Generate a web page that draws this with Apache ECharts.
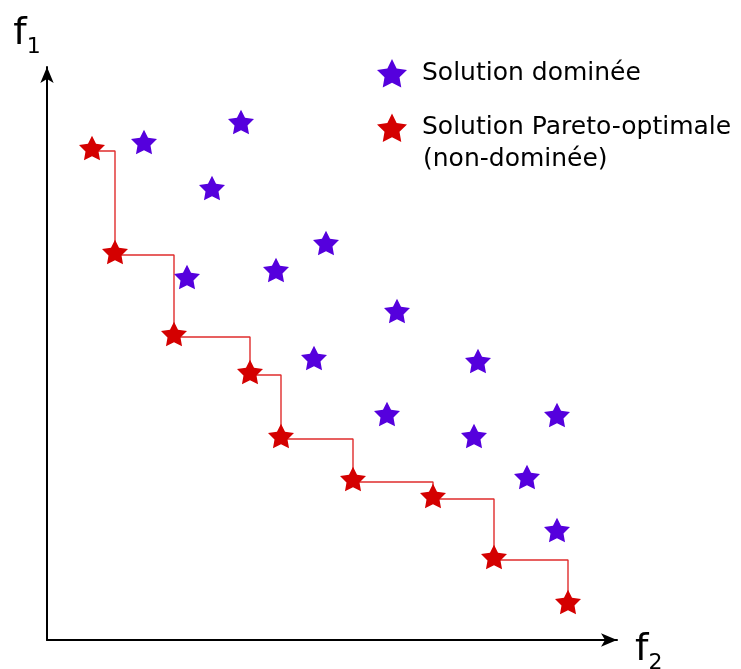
<!DOCTYPE html>
<html>
<head>
<meta charset="utf-8">
<script src="https://cdn.jsdelivr.net/npm/echarts@6/dist/echarts.min.js"></script>
<style>
html,body{margin:0;padding:0;background:#fff;}
#chart{width:741px;height:669px;}
</style>
</head>
<body>
<div id="chart"></div>
<script>
// f2 (x) and f1 (y) values of dominated solutions
var dominatedF2 = [97, 194, 165, 279, 140, 229, 350, 267, 431, 340, 510, 427, 480, 510];
var dominatedF1 = [497, 517, 451, 396, 362, 369, 328, 281, 278, 225, 224, 203, 162, 109];
// Pareto-optimal (non-dominated) solutions
var paretoF2 = [45, 68, 127, 203, 234, 306, 386, 447, 521];
var paretoF1 = [489, 385, 303, 265, 201, 158, 141, 80, 35];

var nameDominated = 'Solution dominée';
var namePareto = 'Solution Pareto-optimale';
var namePareto2 = '(non-dominée)';

var STAR = 'path://M0,-100L29.39,-40.45L95.11,-30.9L47.55,15.45L58.78,80.9L0,50L-58.78,80.9L-47.55,15.45L-95.11,-30.9L-29.39,-40.45Z';
var FONT = 'DejaVu Sans';

function pairs(xs, ys) { return xs.map(function (x, i) { return [x, ys[i]]; }); }

var chart = echarts.init(document.getElementById('chart'));
chart.setOption({
  animation: false,
  backgroundColor: '#fff',
  grid: { left: 47, right: 124, top: 67, bottom: 29, outerBoundsMode: 'none', containLabel: false },
  legend: {
    orient: 'vertical',
    left: 372,
    top: 54,
    padding: 5,
    itemWidth: 30,
    itemHeight: 29,
    itemGap: 26,
    symbolKeepAspect: true,
    textStyle: { fontFamily: FONT, fontSize: 25, color: '#000', padding: [0, 0, 0, 10] },
    data: [
      { name: nameDominated, icon: STAR },
      { name: namePareto, icon: STAR }
    ]
  },
  graphic: [{
    type: 'text', left: 423, top: 147,
    style: { text: namePareto2, fontFamily: FONT, fontSize: 25, fill: '#000' }
  }],
  xAxis: {
    type: 'value', min: 0, max: 570,
    name: '{f|f}{s|2}', nameLocation: 'end', nameGap: 18,
    nameTextStyle: {
      padding: [20, 0, 0, 0],
      rich: {
        f: { fontFamily: FONT, fontSize: 38, color: '#000' },
        s: { fontFamily: FONT, fontSize: 22, color: '#000', padding: [26, 0, 0, 0] }
      }
    },
    axisLine: { lineStyle: { color: '#000', width: 2 }, symbol: ['none', 'arrow'], symbolSize: [10, 16] },
    axisTick: { show: false }, axisLabel: { show: false }, splitLine: { show: false }
  },
  yAxis: {
    type: 'value', min: 0, max: 573,
    name: '{f|f}{s|1}', nameLocation: 'end', nameGap: 9,
    nameTextStyle: {
      padding: [0, 40, 0, 0],
      rich: {
        f: { fontFamily: FONT, fontSize: 38, color: '#000' },
        s: { fontFamily: FONT, fontSize: 22, color: '#000', padding: [26, 0, 0, 0] }
      }
    },
    axisLine: { lineStyle: { color: '#000', width: 2 }, symbol: ['none', 'arrow'], symbolSize: [10, 16] },
    axisTick: { show: false }, axisLabel: { show: false }, splitLine: { show: false }
  },
  series: [
    {
      name: 'front', type: 'line', step: 'end', symbol: 'none',
      data: pairs(paretoF2, paretoF1),
      lineStyle: { color: '#e02c2c', width: 1.4 }, z: 1, silent: true
    },
    {
      name: nameDominated, type: 'scatter', symbol: STAR, symbolSize: 26, symbolKeepAspect: true,
      symbolOffset: [0, -1],
      data: pairs(dominatedF2, dominatedF1),
      itemStyle: { color: '#5500dd', opacity: 1 }, z: 3
    },
    {
      name: namePareto, type: 'scatter', symbol: STAR, symbolSize: 26, symbolKeepAspect: true,
      symbolOffset: [0, -3],
      data: pairs(paretoF2, paretoF1),
      itemStyle: { color: '#d40000', opacity: 1 }, z: 3
    }
  ]
});
</script>
</body>
</html>
